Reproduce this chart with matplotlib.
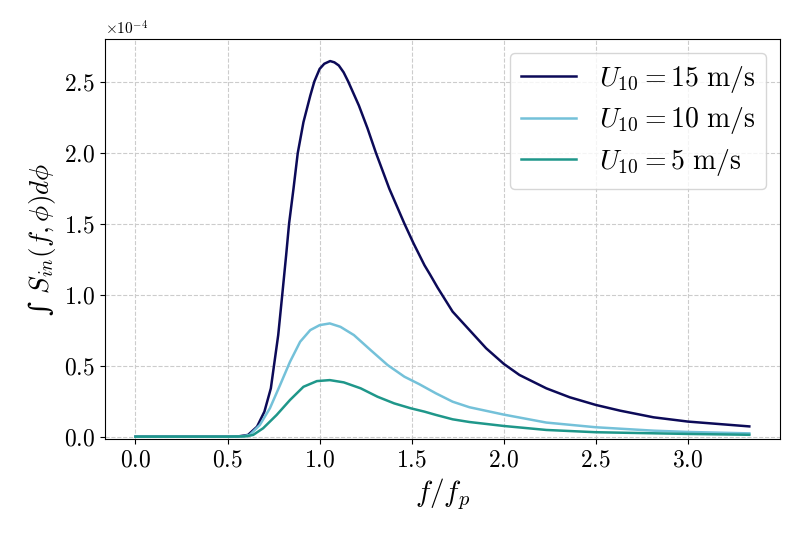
import numpy as np
import matplotlib
matplotlib.use("Agg")
import matplotlib.pyplot as plt
from matplotlib.ticker import ScalarFormatter

plt.rcParams['font.family'] = 'serif'
plt.rcParams['font.serif'] = ['cmr10']
plt.rcParams['mathtext.fontset'] = 'cm'
plt.rcParams['axes.formatter.use_mathtext'] = True

# values (y in units of 1e-4)
x15 = [0.0, 0.3, 0.5, 0.56, 0.611, 0.66, 0.70, 0.735, 0.752, 0.775, 0.797, 0.818,
       0.834, 0.858, 0.881, 0.912, 0.949, 0.971, 1.0, 1.025, 1.057, 1.08, 1.104,
       1.13, 1.155, 1.213, 1.26, 1.305, 1.378, 1.46, 1.51, 1.569, 1.60, 1.64, 1.722,
       1.813, 1.904, 2.0, 2.085, 2.231, 2.358, 2.5, 2.631, 2.813, 3.0, 3.333]
y15 = [0.0, 0.0, 0.0, 0.002, 0.012, 0.07, 0.176, 0.34, 0.5, 0.715, 1.0, 1.277,
       1.5, 1.746, 1.996, 2.214, 2.40, 2.5, 2.589, 2.625, 2.644, 2.635, 2.613,
       2.565, 2.5, 2.331, 2.17, 2.0, 1.746, 1.5, 1.36, 1.207, 1.14, 1.05, 0.88,
       0.751, 0.622, 0.512, 0.434, 0.340, 0.277, 0.223, 0.183, 0.136, 0.106, 0.072]

x10 = [0.0, 0.5, 0.58, 0.62, 0.675, 0.73, 0.785, 0.839, 0.894, 0.949, 1.0, 1.055,
       1.113, 1.186, 1.277, 1.369, 1.46, 1.54, 1.631, 1.722, 1.813, 2.0, 2.231,
       2.5, 2.813, 3.0, 3.333]
y10 = [0.0, 0.0, 0.002, 0.012, 0.082, 0.2, 0.363, 0.527, 0.668, 0.75, 0.785, 0.797,
       0.773, 0.715, 0.609, 0.504, 0.422, 0.37, 0.305, 0.246, 0.207, 0.155, 0.099,
       0.066, 0.042, 0.033, 0.023]

x5 = [0.0, 0.5, 0.6, 0.639, 0.693, 0.766, 0.839, 0.912, 0.985, 1.055, 1.131, 1.223,
      1.314, 1.405, 1.496, 1.569, 1.631, 1.722, 1.813, 2.0, 2.231, 2.5, 3.0, 3.333]
y5 = [0.0, 0.0, 0.002, 0.012, 0.059, 0.152, 0.258, 0.351, 0.391, 0.398, 0.382, 0.34,
      0.281, 0.234, 0.199, 0.176, 0.153, 0.122, 0.103, 0.075, 0.047, 0.031, 0.019, 0.013]

labels = [r'$U_{10} = 15\ \mathrm{m/s}$', r'$U_{10} = 10\ \mathrm{m/s}$', r'$U_{10} = 5\ \mathrm{m/s}$']
colors = ['#0c0a58', '#74c1d9', '#1f978a']
scale = 1e-4

fig = plt.figure(figsize=(8, 5.33), dpi=100)
ax = fig.add_axes([0.131, 0.176, 0.844, 0.751])

for xs, ys, lab, c in zip([x15, x10, x5], [y15, y10, y5], labels, colors):
    ax.plot(xs, np.array(ys) * scale, color=c, lw=1.8, label=lab)

ax.set_ylim(-0.018e-4, 2.8e-4)
ax.set_xticks([0.0, 0.5, 1.0, 1.5, 2.0, 2.5, 3.0])
ax.set_yticks(np.array([0.0, 0.5, 1.0, 1.5, 2.0, 2.5]) * scale)
fmt = ScalarFormatter(useMathText=True)
fmt.set_powerlimits((-3, 3))
ax.yaxis.set_major_formatter(fmt)
ax.tick_params(labelsize=17)
ax.yaxis.get_offset_text().set_fontsize(11)
ax.grid(True, linestyle='--', color='#cccccc', lw=0.8)
ax.set_xlabel(r'$f/f_p$', fontsize=21)
ax.set_ylabel('\u222b ' + r'$S_{in}(f,\phi)d\phi$', fontsize=19.5,
              family=['DejaVu Serif'])
ax.legend(loc='upper right', fontsize=20, framealpha=0.8, labelspacing=0.38)

fig.savefig('out.png', dpi=100)
